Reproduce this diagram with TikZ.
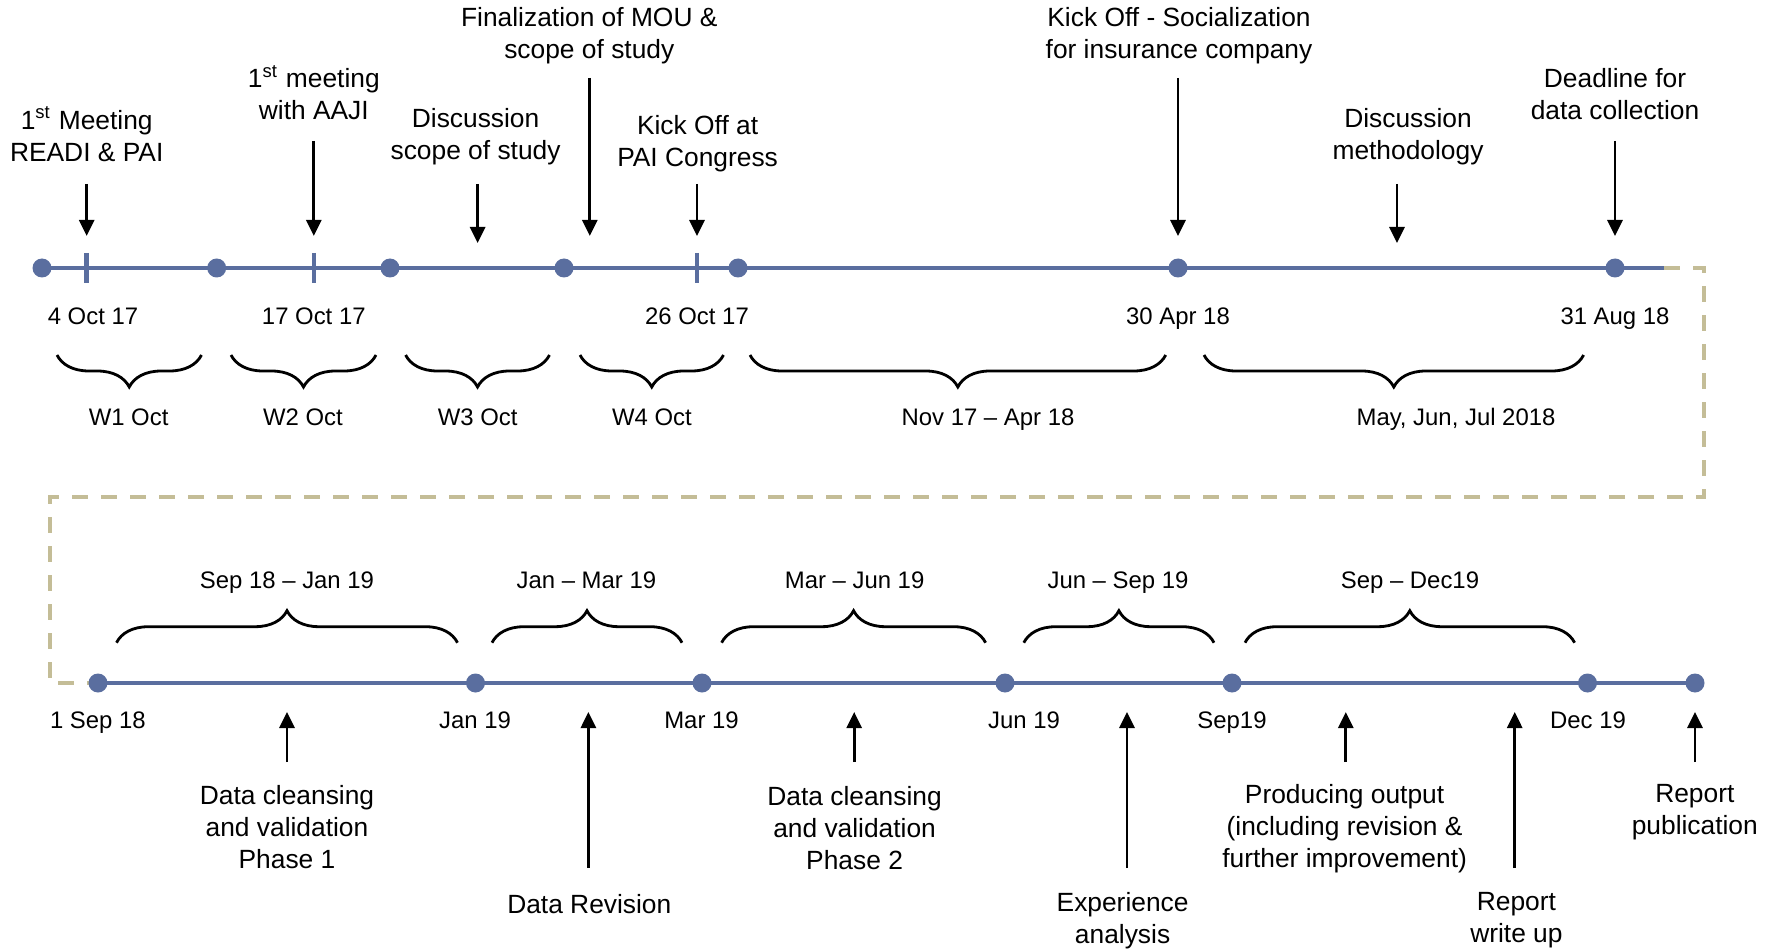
\documentclass[tikz,border=0pt]{standalone}
\usepackage{fontspec}
\setmainfont{Liberation Sans}
\usetikzlibrary{arrows.meta,decorations.pathreplacing}
\definecolor{lineblue}{RGB}{90,110,159}
\definecolor{dashtan}{RGB}{196,189,151}
\tikzset{
  dot/.style={circle,fill=lineblue,inner sep=0pt,minimum size=0.19cm},
  tline/.style={line width=1.3pt,lineblue},
  wrapline/.style={line width=1.3pt,dashtan,dash pattern=on 0.16cm off 0.13cm},
  tickmark/.style={line width=1.3pt,lineblue},
  evt/.style={-{Triangle[length=1.6mm,width=1.5mm]},line width=0.8pt},
  brc/.style={decorate,decoration={brace,amplitude=0.32cm},line width=0.8pt},
  txt/.style={align=center,inner sep=0pt,font=\fontsize{7.5}{9.1}\selectfont},
  small/.style={anchor=base,inner sep=0pt,font=\fontsize{6.8}{8}\selectfont},
}
\begin{document}
\begin{tikzpicture}
\useasboundingbox (0,0) rectangle (17.75,-9.5);

% ---- top timeline
\coordinate (tend) at (16.64,-2.68);
\coordinate (toptip) at (0,-2.36);
\coordinate (toplow) at (0,-2.43);
\foreach \x/\n in {0.42/d1,2.167/d2,3.90/d3,5.64/d4,7.38/d5,11.78/d6,16.15/d7}
  \coordinate (\n) at (\x,-2.68);
\draw[tline] (d1) -- (tend);
\foreach \x in {0.867,3.138,6.97}
  \draw[tickmark] (\x,-2.53) -- (\x,-2.83);

% ---- bottom timeline
\foreach \x/\n in {0.98/b1,4.755/b2,7.02/b3,10.05/b4,12.32/b5,15.875/b6,16.95/b7}
  \coordinate (\n) at (\x,-6.83);
\coordinate (bottip) at (0,-7.12);
\draw[wrapline] (tend) -- (17.04,-2.68) -- (17.04,-4.97) -- (0.50,-4.97) -- (0.50,-6.83) -- (b1);
\draw[tline] (b1) -- (b7);

\foreach \n in {d1,d2,d3,d4,d5,d6,d7,b1,b2,b3,b4,b5,b6,b7}
  \node[dot] (n\n) at (\n) {};

% ---- dates
\node[small] (dt1) at (0.93,-3.245) {4 Oct 17};
\node[small] (dt2) at (3.138,-3.245) {17 Oct 17};
\node[small] (dt3) at (6.97,-3.245) {26 Oct 17};
\node[small] (dt4) at (11.78,-3.245) {30 Apr 18};
\node[small] (dt5) at (16.15,-3.245) {31 Aug 18};

\node[small] (db1) at (0.979,-7.28) {1 Sep 18};
\node[small] (db2) at (4.75,-7.28) {Jan 19};
\node[small] (db3) at (7.015,-7.28) {Mar 19};
\node[small] (db4) at (10.24,-7.28) {Jun 19};
\node[small] (db5) at (12.32,-7.28) {Sep19};
\node[small] (db6) at (15.88,-7.28) {Dec 19};

% ---- braces, top row
\draw[brc] (2.015,-3.55) -- (0.57,-3.55);
\draw[brc] (3.76,-3.55) -- (2.31,-3.55);
\draw[brc] (5.495,-3.55) -- (4.056,-3.55);
\draw[brc] (7.235,-3.55) -- (5.80,-3.55);
\draw[brc] (11.657,-3.55) -- (7.50,-3.55);
\draw[brc] (15.836,-3.55) -- (12.04,-3.55);
\node[small] (w1) at (1.286,-4.25) {W1 Oct};
\node[small] (w2) at (3.03,-4.25) {W2 Oct};
\node[small] (w3) at (4.777,-4.25) {W3 Oct};
\node[small] (w4) at (6.52,-4.25) {W4 Oct};
\node[small] (w5) at (9.88,-4.25) {Nov 17 -- Apr 18};
\node[small] (w6) at (14.56,-4.25) {May, Jun, Jul 2018};

% ---- braces, bottom row
\draw[brc] (1.165,-6.427) -- (4.575,-6.427);
\draw[brc] (4.92,-6.427) -- (6.82,-6.427);
\draw[brc] (7.216,-6.427) -- (9.856,-6.427);
\draw[brc] (10.238,-6.427) -- (12.14,-6.427);
\draw[brc] (12.45,-6.427) -- (15.746,-6.427);
\node[small] (p1) at (2.87,-5.88) {Sep 18 -- Jan 19};
\node[small] (p2) at (5.864,-5.88) {Jan -- Mar 19};
\node[small] (p3) at (8.546,-5.88) {Mar -- Jun 19};
\node[small] (p4) at (11.18,-5.88) {Jun -- Sep 19};
\node[small] (p5) at (14.10,-5.88) {Sep -- Dec19};

% ---- events above
\node[txt] (e1) at (0.867,-1.34) {1\textsuperscript{st} Meeting\\READI \& PAI};
\node[txt] (e2) at (3.138,-0.925) {1\textsuperscript{st} meeting\\with AAJI};
\node[txt] (e3) at (4.756,-1.367) {Discussion\\scope of study};
\node[txt] (e4) at (5.893,-0.354) {Finalization of MOU \&\\scope of study};
\node[txt] (e5) at (6.976,-1.44) {Kick Off at\\PAI Congress};
\node[txt] (e6) at (11.79,-0.354) {Kick Off - Socialization\\for insurance company};
\node[txt] (e7) at (14.08,-1.367) {Discussion\\methodology};
\node[txt] (e8) at (16.15,-0.945) {Deadline for\\data collection};

\coordinate (s1) at (0.867,-1.84);
\coordinate (s2) at (3.138,-1.41);
\coordinate (s3) at (4.776,-1.84);
\coordinate (s4) at (5.898,-0.78);
\coordinate (s5) at (6.97,-1.84);
\coordinate (s6) at (11.78,-0.78);
\coordinate (s7) at (13.97,-1.84);
\coordinate (s8) at (16.15,-1.41);
\draw[evt] (s1) -- (s1 |- toptip);
\draw[evt] (s2) -- (s2 |- toptip);
\draw[evt] (s3) -- (s3 |- toplow);
\draw[evt] (s4) -- (s4 |- toptip);
\draw[evt] (s5) -- (s5 |- toptip);
\draw[evt] (s6) -- (s6 |- toptip);
\draw[evt] (s7) -- (s7 |- toplow);
\draw[evt] (s8) -- (s8 |- toptip);

% ---- events below
\node[txt] (f1) at (2.87,-8.275) {Data cleansing\\and validation\\Phase 1};
\node[txt] (f2) at (5.893,-9.043) {Data Revision};
\node[txt] (f3) at (8.546,-8.277) {Data cleansing\\and validation\\Phase 2};
\node[txt] (f4) at (11.226,-9.203) {Experience\\analysis};
\node[txt] (f5) at (13.446,-8.29) {Producing output\\(including revision \&\\further improvement)};
\node[txt] (f6) at (15.164,-9.205) {Report\\write up};
\node[txt] (f7) at (16.948,-8.12) {Report\\publication};

\coordinate (u1) at (2.87,-7.62);
\coordinate (u2) at (5.884,-8.677);
\coordinate (u3) at (8.542,-7.62);
\coordinate (u4) at (11.27,-8.68);
\coordinate (u5) at (13.458,-7.62);
\coordinate (u6) at (15.147,-8.68);
\coordinate (u7) at (16.95,-7.62);
\foreach \u in {u1,u2,u3,u4,u5,u6,u7}
  \draw[evt] (\u) -- (\u |- bottip);
\end{tikzpicture}
\end{document}
